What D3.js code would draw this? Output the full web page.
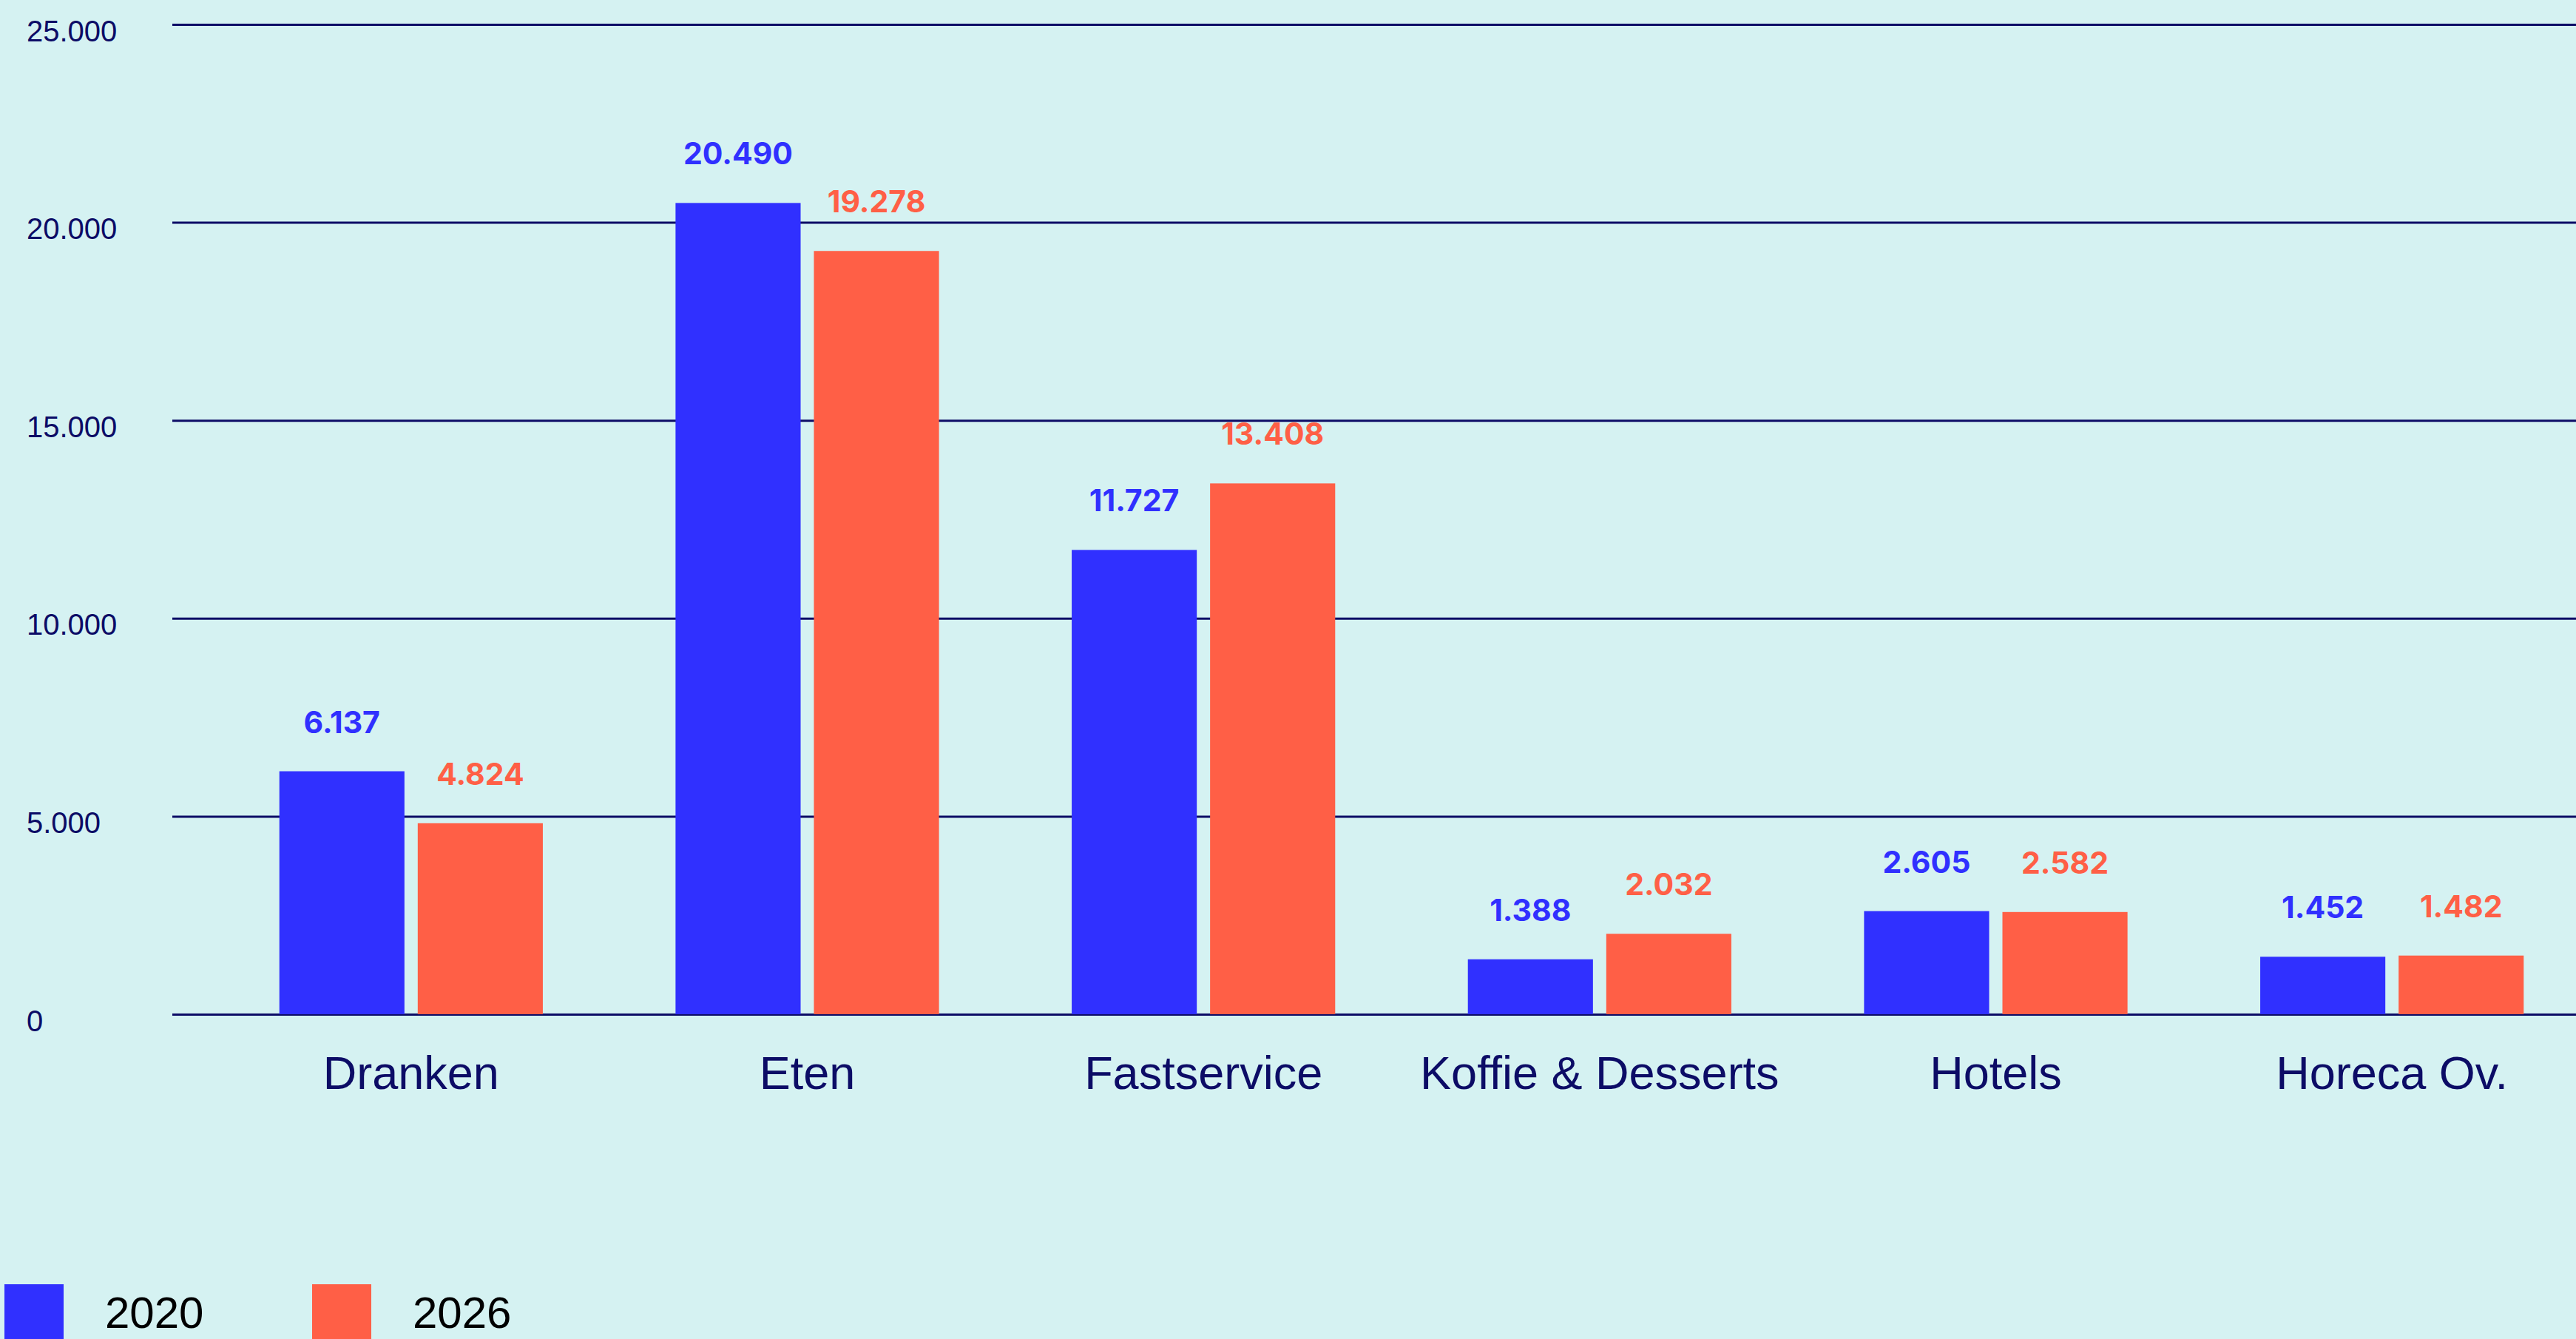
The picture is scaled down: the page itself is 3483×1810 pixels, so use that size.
<!DOCTYPE html>
<html>
<head>
<meta charset="utf-8">
<title>Horeca 2020 - 2026</title>
<script src="https://d3js.org/d3.v7.min.js" charset="utf-8"></script>
<style>
  html, body { margin: 0; padding: 0; background: #d5f2f2; }
  svg { display: block; }
  .grid line { stroke: #0c0c66; stroke-width: 3px; }
  .grid text { font: 40px "Liberation Sans", Arial, sans-serif; fill: #0c0c66; }
  .cat text { font: 63px "Liberation Sans", Arial, sans-serif; fill: #0c0c66; }
  .val { font: 700 41px Inter, "Liberation Sans", sans-serif; }
  .legend text { font: 60px "Liberation Sans", Arial, sans-serif; fill: #000; }
</style>
</head>
<body>
<script>
// data
var categories = ["Dranken", "Eten", "Fastservice", "Koffie & Desserts", "Hotels", "Horeca Ov."];
var series = ["2020", "2026"];
var values2020 = [6137, 20490, 11727, 1388, 2605, 1452];
var values2026 = [4824, 19278, 13408, 2032, 2582, 1482];
var yTicks = [0, 5000, 10000, 15000, 20000, 25000];
var colors = ["#3030ff", "#ff5f46"];

var W = 3483, H = 1810;
var left = 233, baseY = 1371, topY = 33;

var nl = d3.formatLocale({decimal: ",", thousands: ".", grouping: [3], currency: ["€", ""]});
var fmt = nl.format(",d");

var svg = d3.select("body").append("svg")
    .attr("width", W)
    .attr("height", H);

svg.append("rect").attr("width", W).attr("height", H).attr("fill", "#d5f2f2");

var y = d3.scaleLinear().domain([0, 25000]).range([baseY, topY]);

var x0 = d3.scaleBand()
    .domain(categories)
    .range([288, 3502])
    .paddingInner(0.335)
    .paddingOuter(0.1675);

var x1 = d3.scaleBand()
    .domain(series)
    .range([0, x0.bandwidth()])
    .paddingInner(0.096);

var color = d3.scaleOrdinal().domain(series).range(colors);

// gridlines + tick labels
var grid = svg.append("g")
    .attr("class", "grid")
    .attr("transform", "translate(" + left + ",0)")
    .call(d3.axisLeft(y).tickValues(yTicks).tickSize(-(W - left)).tickFormat(fmt));
grid.select(".domain").remove();
grid.selectAll("text")
    .attr("x", 36 - left)
    .attr("y", 22)
    .attr("dy", 0)
    .attr("text-anchor", "start");

// category labels
var cat = svg.append("g")
    .attr("class", "cat")
    .attr("transform", "translate(0," + baseY + ")")
    .call(d3.axisBottom(x0).tickSize(0));
cat.select(".domain").remove();
cat.selectAll("text").attr("y", 101).attr("dy", 0);

// bars
var rows = categories.map(function(c, i) {
  return {cat: c, vals: [
    {s: "2020", v: values2020[i]},
    {s: "2026", v: values2026[i]}
  ]};
});

var groups = svg.append("g").selectAll("g")
    .data(rows)
    .join("g")
    .attr("transform", function(d) { return "translate(" + x0(d.cat) + ",0)"; });

groups.selectAll("rect")
    .data(function(d) { return d.vals; })
    .join("rect")
    .attr("x", function(d) { return x1(d.s); })
    .attr("y", function(d) { return y(d.v); })
    .attr("width", x1.bandwidth())
    .attr("height", function(d) { return baseY - y(d.v); })
    .attr("fill", function(d) { return color(d.s); });

groups.selectAll("text")
    .data(function(d) { return d.vals; })
    .join("text")
    .attr("class", "val")
    .attr("x", function(d) { return x1(d.s) + x1.bandwidth() / 2; })
    .attr("y", function(d) { return y(d.v) - 52; })
    .attr("text-anchor", "middle")
    .attr("fill", function(d) { return color(d.s); })
    .text(function(d) { return fmt(d.v); });

// legend
var legend = svg.append("g").attr("class", "legend")
    .selectAll("g")
    .data(series)
    .join("g")
    .attr("transform", function(d, i) { return "translate(" + (6 + i * 416) + ",1736)"; });

legend.append("rect")
    .attr("width", 80)
    .attr("height", 80)
    .attr("fill", function(d) { return color(d); });

legend.append("text")
    .attr("x", 136)
    .attr("y", 59)
    .text(function(d) { return d; });
</script>
</body>
</html>
